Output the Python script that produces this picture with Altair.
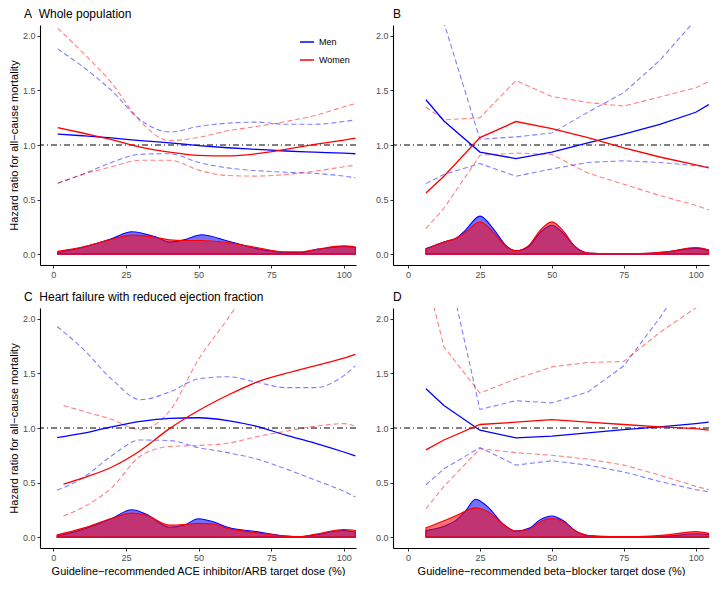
import altair as alt
import pandas as pd

BLUE = "#0000FF"
RED = "#FF0000"
FONT = "Liberation Sans"

# ---------------- Panel A: whole population, ACE/ARB ----------------
A_x = [1.5, 10, 20, 30, 40, 50, 60, 70, 80, 90, 100, 104]
A_men = [1.10, 1.085, 1.065, 1.04, 1.02, 0.995, 0.975, 0.96, 0.945, 0.935, 0.925, 0.92]
A_women = [1.16, 1.11, 1.05, 0.98, 0.935, 0.905, 0.90, 0.92, 0.96, 1.005, 1.045, 1.062]
A_men_hi = [1.88, 1.72, 1.50, 1.23, 1.12, 1.17, 1.20, 1.21, 1.19, 1.19, 1.215, 1.23]
A_men_lo = [0.65, 0.73, 0.84, 0.915, 0.92, 0.84, 0.79, 0.765, 0.75, 0.74, 0.715, 0.70]
A_women_hi = [2.07, 1.85, 1.57, 1.215, 1.04, 1.07, 1.13, 1.17, 1.215, 1.27, 1.35, 1.38]
A_women_lo = [0.65, 0.73, 0.80, 0.86, 0.86, 0.77, 0.72, 0.715, 0.73, 0.76, 0.80, 0.815]
A_dx = [1.5, 10, 20, 27, 35, 40, 45, 51, 60, 70, 80, 85, 90, 100, 104]
A_dens_men = [0.015, 0.06, 0.14, 0.205, 0.16, 0.11, 0.13, 0.177, 0.12, 0.05, 0.015, 0.015, 0.04, 0.07, 0.06]
A_dens_women = [0.025, 0.065, 0.135, 0.174, 0.155, 0.13, 0.125, 0.125, 0.105, 0.06, 0.02, 0.02, 0.04, 0.075, 0.065]

# ---------------- Panel B: whole population, beta-blocker ----------------
B_x = [6.25, 12.5, 25, 37.5, 50, 62.5, 75, 87.5, 100, 104.5]
B_men = [1.415, 1.22, 0.935, 0.876, 0.935, 1.02, 1.10, 1.19, 1.30, 1.37]
B_women = [0.56, 0.714, 1.068, 1.215, 1.15, 1.068, 0.973, 0.89, 0.817, 0.79]
B_men_hi = [3.0, 2.12, 1.053, 1.074, 1.11, 1.30, 1.48, 1.776, 2.15, 2.3]
B_men_lo = [0.646, 0.73, 0.83, 0.714, 0.78, 0.84, 0.855, 0.84, 0.81, 0.80]
B_women_hi = [1.348, 1.23, 1.25, 1.59, 1.445, 1.39, 1.357, 1.44, 1.525, 1.58]
B_women_lo = [0.233, 0.42, 0.905, 0.926, 0.914, 0.743, 0.64, 0.537, 0.448, 0.404]
B_dx = [6.25, 12.5, 17, 20, 25, 30, 34, 37.5, 42, 46, 50, 54, 58, 62.5, 70, 80, 90, 100, 104.5]
B_dens_men = [0.05, 0.11, 0.15, 0.22, 0.348, 0.22, 0.08, 0.03, 0.07, 0.20, 0.265, 0.19, 0.07, 0.01, 0.003, 0.003, 0.02, 0.055, 0.035]
B_dens_women = [0.045, 0.11, 0.15, 0.20, 0.295, 0.19, 0.07, 0.03, 0.08, 0.22, 0.295, 0.21, 0.07, 0.01, 0.005, 0.005, 0.02, 0.06, 0.04]

# ---------------- Panel C: HFrEF, ACE/ARB ----------------
C_x = [1.3, 10, 20, 30, 40, 50, 60, 70, 80, 90, 100, 104]
C_men = [0.912, 0.95, 1.01, 1.06, 1.088, 1.094, 1.068, 1.015, 0.935, 0.862, 0.78, 0.744]
C_men_hi = [1.93, 1.73, 1.45, 1.26, 1.33, 1.45, 1.47, 1.42, 1.37, 1.37, 1.48, 1.57]
C_men_lo = [0.43, 0.54, 0.744, 0.89, 0.885, 0.82, 0.774, 0.715, 0.626, 0.524, 0.42, 0.368]
C_wx = [3.5, 10, 20, 30, 40, 50, 60, 70, 80, 90, 100, 104]
C_women = [0.485, 0.54, 0.64, 0.794, 0.994, 1.16, 1.30, 1.42, 1.50, 1.57, 1.64, 1.676]
C_women_hi = [1.206, 1.156, 1.08, 0.985, 1.156, 1.63, 2.0, 2.4, 2.8, 3.2, 3.5, 3.6]
C_women_lo = [0.194, 0.27, 0.45, 0.744, 0.83, 0.84, 0.86, 0.92, 0.97, 1.015, 1.04, 1.015]
C_dx = [1.3, 10, 20, 27, 32, 40, 45, 50, 55, 60, 70, 80, 85, 90, 100, 104]
C_dens_men = [0.01, 0.07, 0.17, 0.25, 0.21, 0.09, 0.11, 0.168, 0.14, 0.09, 0.05, 0.01, 0.005, 0.02, 0.06, 0.045]
C_dens_women = [0.02, 0.08, 0.17, 0.22, 0.20, 0.11, 0.115, 0.126, 0.12, 0.08, 0.04, 0.01, 0.005, 0.025, 0.07, 0.06]

# ---------------- Panel D: HFrEF, beta-blocker ----------------
D_x = [6.25, 12.5, 25, 37.5, 50, 62.5, 75, 87.5, 100, 104.5]
D_men = [1.36, 1.206, 0.98, 0.91, 0.926, 0.956, 0.985, 1.01, 1.04, 1.053]
D_women = [0.80, 0.89, 1.032, 1.053, 1.076, 1.053, 1.032, 1.01, 0.994, 0.98]
D_men_hi = [4.0, 2.64, 1.17, 1.25, 1.23, 1.33, 1.57, 2.01, 2.5, 2.7]
D_men_lo = [0.48, 0.626, 0.82, 0.66, 0.70, 0.66, 0.597, 0.51, 0.435, 0.415]
D_women_hi = [2.40, 1.745, 1.32, 1.45, 1.56, 1.60, 1.61, 1.876, 2.1, 2.2]
D_women_lo = [0.26, 0.465, 0.81, 0.774, 0.75, 0.715, 0.66, 0.568, 0.465, 0.435]
D_dx = [6.25, 12.5, 17, 20, 23.5, 28, 33, 37.5, 42, 46, 50, 54, 58, 62.5, 70, 80, 90, 100, 104.5]
D_dens_men = [0.06, 0.10, 0.16, 0.24, 0.347, 0.27, 0.12, 0.055, 0.08, 0.16, 0.194, 0.15, 0.06, 0.015, 0.005, 0.005, 0.01, 0.03, 0.025]
D_dens_women = [0.085, 0.15, 0.20, 0.24, 0.268, 0.23, 0.12, 0.055, 0.07, 0.14, 0.17, 0.14, 0.06, 0.015, 0.005, 0.005, 0.02, 0.05, 0.035]

TITLES = ["A\u00a0 Whole population", "B", "C\u00a0 Heart failure with reduced ejection fraction", "D"]
XTITLE_ACE = "Guideline\u2212recommended ACE inhibitor/ARB target dose (%)"
XTITLE_BB = "Guideline\u2212recommended beta\u2212blocker target dose (%)"
YTITLE = "Hazard ratio for all\u2212cause mortality"
SEXES = ["Men", "Women"]
X_TICKS = [0, 25, 50, 75, 100]
Y_TICKS = [0.0, 0.5, 1.0, 1.5, 2.0]

W, H = 316, 240


def series(xs, ys, sex):
    return pd.DataFrame({"x": xs, "y": ys, "sex": sex})


def panel(title, title_dx, xdom, curve, lines, dens, xtitle, ytitle, show_legend):
    xs = alt.X("x:Q", scale=alt.Scale(domain=xdom, nice=False, zero=False),
               axis=alt.Axis(values=X_TICKS, title=xtitle))
    ys = alt.Y("y:Q", scale=alt.Scale(domain=[-0.1, 2.1], nice=False, zero=False),
               axis=alt.Axis(values=Y_TICKS, format=".1f", title=ytitle))
    cscale = alt.Scale(domain=SEXES, range=[BLUE, RED])

    layers = []
    # density areas (men first, women on top)
    for d, col in zip(dens, [BLUE, RED]):
        layers.append(alt.Chart(d).mark_area(
            interpolate="monotone", fill=col, fillOpacity=0.55, stroke=col,
            strokeWidth=1.1, clip=True).encode(x=xs, y=ys))
    # confidence limits
    men_hi, men_lo, women_hi, women_lo = lines[2:]
    for d, col in [(men_hi, BLUE), (men_lo, BLUE), (women_hi, RED), (women_lo, RED)]:
        layers.append(alt.Chart(d).mark_line(
            interpolate=curve, color=col, strokeDash=[5, 3], strokeWidth=1.1,
            opacity=0.5, clip=True).encode(x=xs, y=ys))
    # reference line at 1
    layers.append(alt.Chart(pd.DataFrame({"y": [1.0]})).mark_rule(
        color="black", strokeWidth=1, strokeDash=[6, 3, 1, 3]).encode(y=ys))
    # point estimates
    both = pd.concat([lines[0], lines[1]])
    legend = (alt.Legend(title=None, orient="none", legendX=W - 57, legendY=9,
                         symbolType="stroke", symbolSize=200, symbolStrokeWidth=1.5,
                         labelFontSize=9, labelFont=FONT, rowPadding=5, labelColor="black")
              if show_legend else None)
    layers.append(alt.Chart(both).mark_line(
        interpolate=curve, strokeWidth=1.3, clip=True).encode(
        x=xs, y=ys, color=alt.Color("sex:N", scale=cscale, legend=legend),
        detail="sex:N"))
    return alt.layer(*layers).properties(
        width=W, height=H,
        title=alt.TitleParams(title, anchor="start", frame="group", dx=title_dx,
                              fontSize=12, font=FONT, fontWeight="normal", offset=4,
                              color="black"))


pA = panel(TITLES[0], -16, [-4.6, 104.2], "monotone",
           [series(A_x, A_men, "Men"), series(A_x, A_women, "Women"),
            series(A_x, A_men_hi, "Men"), series(A_x, A_men_lo, "Men"),
            series(A_x, A_women_hi, "Women"), series(A_x, A_women_lo, "Women")],
           [series(A_dx, A_dens_men, "Men"), series(A_dx, A_dens_women, "Women")],
           "", YTITLE, True)
pB = panel(TITLES[1], 0, [-5.2, 104.6], "linear",
           [series(B_x, B_men, "Men"), series(B_x, B_women, "Women"),
            series(B_x, B_men_hi, "Men"), series(B_x, B_men_lo, "Men"),
            series(B_x, B_women_hi, "Women"), series(B_x, B_women_lo, "Women")],
           [series(B_dx, B_dens_men, "Men"), series(B_dx, B_dens_women, "Women")],
           "", "", False)
pC = panel(TITLES[2], -16, [-4.6, 104.2], "monotone",
           [series(C_x, C_men, "Men"), series(C_wx, C_women, "Women"),
            series(C_x, C_men_hi, "Men"), series(C_x, C_men_lo, "Men"),
            series(C_wx, C_women_hi, "Women"), series(C_wx, C_women_lo, "Women")],
           [series(C_dx, C_dens_men, "Men"), series(C_dx, C_dens_women, "Women")],
           XTITLE_ACE, YTITLE, False)
pD = panel(TITLES[3], 0, [-5.2, 104.6], "linear",
           [series(D_x, D_men, "Men"), series(D_x, D_women, "Women"),
            series(D_x, D_men_hi, "Men"), series(D_x, D_men_lo, "Men"),
            series(D_x, D_women_hi, "Women"), series(D_x, D_women_lo, "Women")],
           [series(D_dx, D_dens_men, "Men"), series(D_dx, D_dens_women, "Women")],
           XTITLE_BB, "", False)

row1 = alt.hconcat(pA, pB, spacing=18)
row2 = alt.hconcat(pC, pD, spacing=18)
chart = alt.vconcat(row1, row2, spacing=12).resolve_scale(color="independent").properties(
    padding=0
).configure_view(stroke=None).configure_axis(
    domainColor="black", domainWidth=1.1, tickColor="#333333", tickSize=3, tickWidth=1,
    labelColor="#4d4d4d", labelFontSize=9, labelFont=FONT, labelPadding=2,
    titleFont=FONT, titleFontSize=11, titleFontWeight="normal", titleColor="black",
    titlePadding=3, grid=False
)

chart.save("out.html", embed_options={"renderer": "svg", "actions": False})
